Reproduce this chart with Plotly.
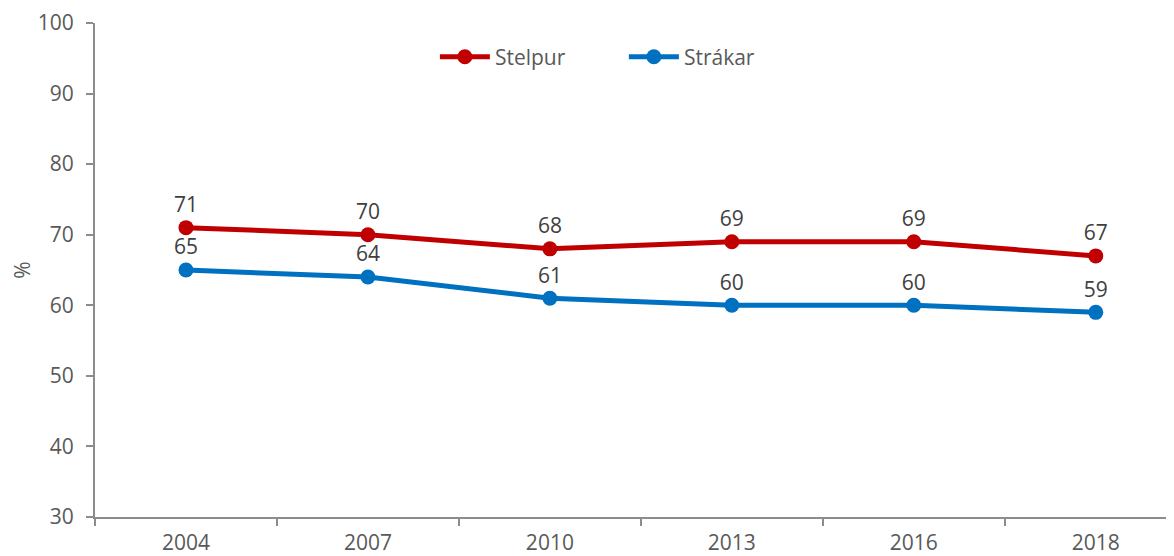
import plotly.graph_objects as go

years = ["2004", "2007", "2010", "2013", "2016", "2018"]
stelpur = [71, 70, 68, 69, 69, 67]
strakar = [65, 64, 61, 60, 60, 59]
y_ticks = [30, 40, 50, 60, 70, 80, 90, 100]

FONT = "Open Sans"
TXT = "#595959"
LBL = "#404040"
AX = "#8c8c8c"

fig = go.Figure()
fig.add_trace(go.Scatter(
    x=years, y=stelpur, name="Stelpur", mode="lines+markers+text",
    line=dict(color="#C00000", width=5), marker=dict(size=15, color="#C00000"),
    text=[str(v) for v in stelpur], textposition="top center",
    textfont=dict(family=FONT, size=21, color=LBL),
))
fig.add_trace(go.Scatter(
    x=years, y=strakar, name="Strákar", mode="lines+markers+text",
    line=dict(color="#0070C0", width=5), marker=dict(size=15, color="#0070C0"),
    text=[str(v) for v in strakar], textposition="top center",
    textfont=dict(family=FONT, size=21, color=LBL),
))

fig.update_layout(
    width=1166, height=548,
    margin=dict(l=87, r=0, t=15, b=39),
    plot_bgcolor="white", paper_bgcolor="white",
    font=dict(family=FONT, size=21, color=TXT),
    legend=dict(orientation="h", x=0.315, xanchor="left", y=0.931, yanchor="middle",
                font=dict(family=FONT, size=21, color=TXT), itemwidth=50,
                entrywidth=124, entrywidthmode="pixels",
                bgcolor="rgba(0,0,0,0)"),
    xaxis=dict(type="category", range=[-0.5, 5.43], showline=True, linecolor=AX,
               linewidth=2, ticks="outside", tickson="boundaries", ticklen=7,
               tickcolor=AX, tickwidth=2, showgrid=False, automargin=False,
               ticklabelstandoff=6,
               tickfont=dict(family=FONT, size=21, color=TXT)),
    yaxis=dict(range=[30, 100], tickvals=y_ticks, showline=True, linecolor=AX,
               linewidth=2, ticks="outside", ticklen=7, tickcolor=AX, tickwidth=2,
               showgrid=False, zeroline=False, automargin=False,
               ticklabelstandoff=8,
               title=dict(text="%", standoff=16,
                          font=dict(family=FONT, size=21, color=TXT)),
               tickfont=dict(family=FONT, size=21, color=TXT)),
)

fig.write_html("out.html")
